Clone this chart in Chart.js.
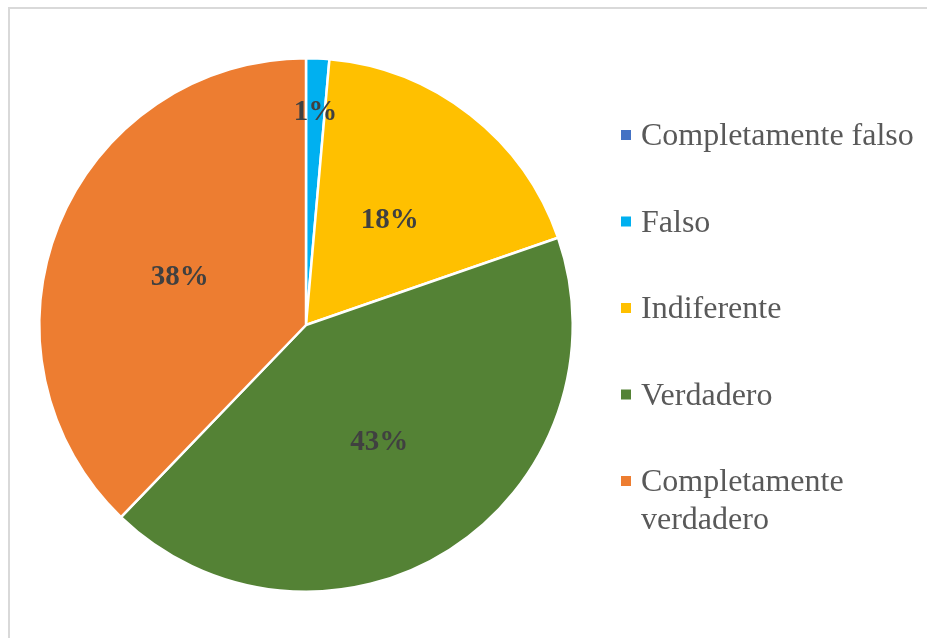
<!DOCTYPE html>
<html>
<head>
<meta charset="utf-8">
<script src="https://cdn.jsdelivr.net/npm/chart.js@4.4.0/dist/chart.umd.min.js"></script>
<style>
  html, body { margin: 0; padding: 0; background: #fff; }
  #wrap { position: relative; width: 927px; height: 638px; overflow: hidden; }
  #frame { position: absolute; left: 8px; top: 7px; width: 940px; height: 660px; border: 2px solid #d9d9d9; box-sizing: border-box; }
  canvas { position: absolute; left: 0; top: 0; }
</style>
</head>
<body>
<div id="wrap">
  <div id="frame"></div>
  <canvas id="pie" width="927" height="638"></canvas>
</div>
<script>
const categories = ['Completamente falso', 'Falso', 'Indiferente', 'Verdadero', 'Completamente verdadero'];
const legendLines = [['Completamente falso'], ['Falso'], ['Indiferente'], ['Verdadero'], ['Completamente', 'verdadero']];
const shares = [0, 1.4, 18.3, 42.5, 37.8];
const colors = ['#4472C4', '#00B0F0', '#FFC000', '#548235', '#ED7D31'];

// percent labels on the slices
const sliceLabels = {
  id: 'sliceLabels',
  afterDatasetsDraw(chart) {
    const ctx = chart.ctx;
    const meta = chart.getDatasetMeta(0);
    const total = shares.reduce((a, b) => a + b, 0);
    ctx.save();
    ctx.font = 'bold 29px "Liberation Serif", "Times New Roman", serif';
    ctx.fillStyle = '#404040';
    ctx.textAlign = 'center';
    ctx.textBaseline = 'middle';
    meta.data.forEach((arc, i) => {
      if (!shares[i]) return;
      const p = arc.getProps(['x', 'y', 'startAngle', 'endAngle', 'outerRadius'], true);
      const mid = (p.startAngle + p.endAngle) / 2;
      const pct = shares[i] / total;
      const f = pct < 0.03 ? 0.81 : 0.51;
      const x = p.x + Math.cos(mid) * p.outerRadius * f;
      const y = p.y + Math.sin(mid) * p.outerRadius * f + 3;
      ctx.fillText(Math.round(pct * 100) + '%', x, y);
    });
    ctx.restore();
  }
};

// legend drawn on the right
const sideLegend = {
  id: 'sideLegend',
  afterDraw(chart) {
    const ctx = chart.ctx;
    const x0 = 621, tx = 641, y0 = 135, step = 86.5, lineH = 38;
    ctx.save();
    ctx.font = '32px "Liberation Serif", "Times New Roman", serif';
    ctx.textBaseline = 'middle';
    ctx.textAlign = 'left';
    categories.forEach((c, i) => {
      const y = y0 + i * step;
      ctx.fillStyle = colors[i];
      ctx.fillRect(x0, y - 5, 10, 10);
      ctx.fillStyle = '#595959';
      legendLines[i].forEach((t, j) => ctx.fillText(t, tx, y + 2 + j * lineH));
    });
    ctx.restore();
  }
};

new Chart(document.getElementById('pie'), {
  type: 'pie',
  data: {
    labels: categories,
    datasets: [{
      data: shares,
      backgroundColor: colors,
      borderColor: '#ffffff',
      borderWidth: 2.5
    }]
  },
  options: {
    responsive: false,
    animation: false,
    layout: { padding: { left: 38, right: 353, top: 57, bottom: 45 } },
    plugins: {
      legend: { display: false },
      tooltip: { enabled: false }
    }
  },
  plugins: [sliceLabels, sideLegend]
});
</script>
</body>
</html>
